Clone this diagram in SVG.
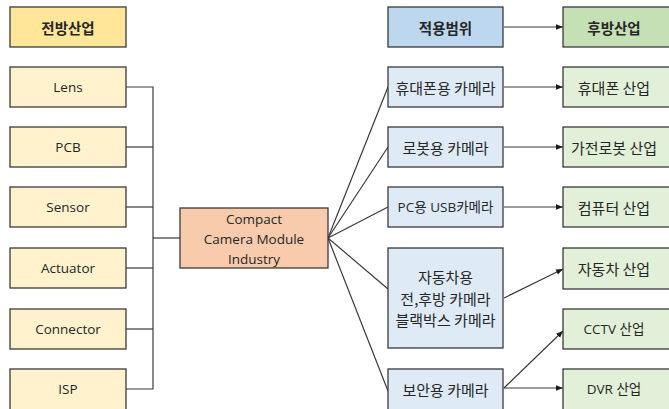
<svg xmlns="http://www.w3.org/2000/svg" width="669" height="409" viewBox="0 0 669 409">
<defs>
<marker id="arr" viewBox="0 0 10 10" refX="10" refY="5" markerWidth="7" markerHeight="7" markerUnits="userSpaceOnUse" orient="auto">
<path d="M0,1 L10,5 L0,9 z" fill="#1a1a1a"/>
</marker>
<style>
rect{stroke:#3a3a3a;stroke-width:1.3}
.hl{fill:#FFE699}.l{fill:#FFF2CC}.c{fill:#F8CBAD}
.ha{fill:#BDD7EE}.a{fill:#DEEBF7}.hb{fill:#C5E0B4}.b{fill:#E2F0D9}
text{font-family:"Open Sans","Noto Sans CJK KR",sans-serif;font-size:13.5px;fill:#262626;text-anchor:middle;dominant-baseline:central}
.k{font-family:"Noto Sans CJK KR",sans-serif;font-size:15px}
.h{font-family:"Noto Sans CJK KR",sans-serif;font-weight:bold;font-size:14.5px}
.conn line,.conn polyline{stroke:#3a3a3a;stroke-width:1.2;fill:none}
</style>
</defs>
<g class="conn">
<polyline points="126,87 153,87 153,389 126,389"/>
<line x1="126" y1="147" x2="153" y2="147"/>
<line x1="126" y1="207" x2="153" y2="207"/>
<line x1="126" y1="268" x2="153" y2="268"/>
<line x1="126" y1="329" x2="153" y2="329"/>
<line x1="153" y1="238" x2="180" y2="238"/>
<line x1="328" y1="238" x2="388" y2="87"/>
<line x1="328" y1="238" x2="388" y2="147"/>
<line x1="328" y1="238" x2="388" y2="207"/>
<line x1="328" y1="238" x2="388" y2="289"/>
<line x1="328" y1="238" x2="388" y2="391"/>
<line x1="504" y1="27" x2="563" y2="27" marker-end="url(#arr)"/>
<line x1="504" y1="87" x2="563" y2="87" marker-end="url(#arr)"/>
<line x1="504" y1="147" x2="563" y2="147" marker-end="url(#arr)"/>
<line x1="504" y1="207" x2="563" y2="207" marker-end="url(#arr)"/>
<line x1="504" y1="298" x2="563" y2="269" marker-end="url(#arr)"/>
<line x1="504" y1="388" x2="563" y2="331" marker-end="url(#arr)"/>
<line x1="504" y1="388" x2="563" y2="388" marker-end="url(#arr)"/>
</g>
<g id="front-header"><rect class="hl" x="10" y="7" width="116" height="40"/><text class="h" x="68" y="27">전방산업</text></g>
<g id="lens"><rect class="l" x="10" y="67" width="116" height="40"/><text x="68" y="87">Lens</text></g>
<g id="pcb"><rect class="l" x="10" y="127" width="116" height="40"/><text x="68" y="147">PCB</text></g>
<g id="sensor"><rect class="l" x="10" y="187" width="116" height="40"/><text x="68" y="207">Sensor</text></g>
<g id="actuator"><rect class="l" x="10" y="248" width="116" height="40"/><text x="68" y="268">Actuator</text></g>
<g id="connector"><rect class="l" x="10" y="309" width="116" height="40"/><text x="68" y="329">Connector</text></g>
<g id="isp"><rect class="l" x="10" y="369" width="116" height="44"/><text x="68" y="389">ISP</text></g>
<g id="ccm"><rect class="c" x="180" y="208" width="148" height="60"/><text x="254" y="219">Compact</text><text x="254" y="239">Camera Module</text><text x="254" y="259">Industry</text></g>
<g id="app-header"><rect class="ha" x="388" y="7" width="115" height="40"/><text class="h" x="445.5" y="27">적용범위</text></g>
<g id="app-phone"><rect class="a" x="388" y="67" width="115" height="40"/><text class="k" x="445.5" y="87">휴대폰용 카메라</text></g>
<g id="app-robot"><rect class="a" x="388" y="127" width="115" height="40"/><text class="k" x="445.5" y="147">로봇용 카메라</text></g>
<g id="app-pc"><rect class="a" x="388" y="187" width="115" height="40"/><text x="445.5" y="207">PC용 USB카메라</text></g>
<g id="app-car"><rect class="a" x="388" y="248" width="115" height="100"/><text class="k" x="445.5" y="276">자동차용</text><text class="k" x="445.5" y="298">전,후방 카메라</text><text class="k" x="445.5" y="319">블랙박스 카메라</text></g>
<g id="app-security"><rect class="a" x="388" y="369" width="115" height="44"/><text class="k" x="445.5" y="389">보안용 카메라</text></g>
<g id="back-header"><rect class="hb" x="563" y="7" width="112" height="40"/><text class="h" x="614" y="27">후방산업</text></g>
<g id="back-phone"><rect class="b" x="563" y="67" width="112" height="40"/><text class="k" x="614" y="87">휴대폰 산업</text></g>
<g id="back-robot"><rect class="b" x="563" y="127" width="112" height="40"/><text class="k" x="614" y="147">가전로봇 산업</text></g>
<g id="back-pc"><rect class="b" x="563" y="187" width="112" height="40"/><text class="k" x="614" y="207">컴퓨터 산업</text></g>
<g id="back-car"><rect class="b" x="563" y="248" width="112" height="41"/><text class="k" x="614" y="268">자동차 산업</text></g>
<g id="back-cctv"><rect class="b" x="563" y="309" width="112" height="40"/><text x="614" y="329">CCTV 산업</text></g>
<g id="back-dvr"><rect class="b" x="563" y="369" width="112" height="44"/><text x="614" y="389">DVR 산업</text></g>
</svg>
